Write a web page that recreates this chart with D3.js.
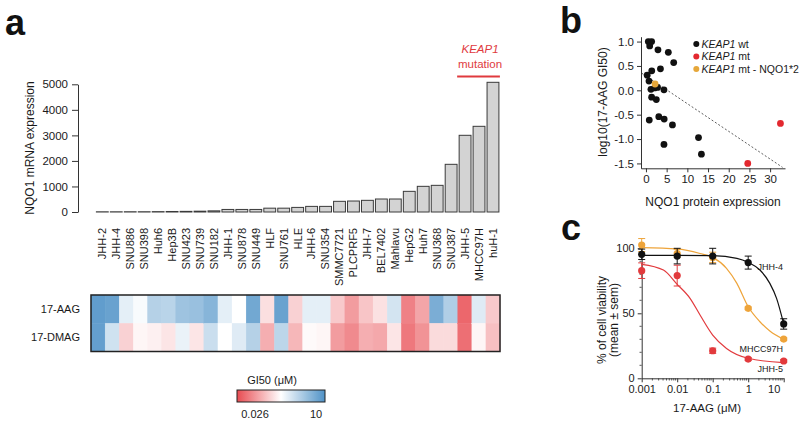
<!DOCTYPE html>
<html><head><meta charset="utf-8">
<script src="https://cdn.jsdelivr.net/npm/d3@7"></script>
<style>
body{margin:0;background:#fff;}
svg{font-family:"Liberation Sans",Arial,Helvetica,sans-serif;}
</style></head><body>
<svg id="chart" width="800" height="424"></svg>
<script>
// ---------- Panel a data ----------
const categories = ["JHH-2","JHH-4","SNU886","SNU398","Huh6","Hep3B","SNU423","SNU739","SNU182","JHH-1","SNU878","SNU449","HLF","SNU761","HLE","JHH-6","SNU354","SMMC7721","PLCPRF5","JHH-7","BEL7402","Mahlavu","HepG2","Huh7","SNU368","SNU387","JHH-5","MHCC97H","huH-1"];
const nqo1Expression = [8,8,10,10,14,20,25,32,45,100,100,100,150,150,180,220,220,418,430,457,509,509,809,1005,1044,1867,3003,3355,5078];
const yTicksA = [0,1000,2000,3000,4000,5000];
const drugs = ["17-AAG","17-DMAG"];
const gi50AAG  = [7.43,6.40,0.80,0.57,1.78,1.67,2.62,2.86,3.86,0.80,0.51,5.52,0.30,6.40,0.24,0.80,0.80,0.21,0.099,0.197,0.31,1.07,0.064,0.115,4.75,1.95,0.041,0.87,0.21];
const gi50DMAG = [7.0,1.14,0.24,0.44,0.40,0.33,0.73,0.33,1.25,0.51,0.87,1.78,0.134,1.58,0.155,0.47,0.44,0.099,0.074,0.134,0.122,0.33,0.055,0.085,0.28,0.28,0.047,0.44,0.18];
const gi50Range = [0.026, 10];
const mutatedLines = ["JHH-5","MHCC97H","huH-1"];

// ---------- Panel b data ----------
const wtX = [0.57,1.37,0.9,2.9,5.4,6.7,1.4,3.5,0.3,0.73,1.2,2.1,2.8,4.35,1.37,2.5,3.1,4.4,0.8,6.4,4.35,12.7,13.4];
const wtY = [1.0,1.0,0.91,0.83,0.78,0.57,0.40,0.44,0.31,0.19,0.02,0.05,0.06,0.01,-0.14,-0.19,-0.54,-0.59,-0.61,-0.71,-1.11,-0.97,-1.31];
const mtX = [24.6,32.5];
const mtY = [-1.5,-0.68];
const mt2X = [2.2];
const mt2Y = [0.13];
const fitLineX = [-1, 33];
const fitLineY = [0.35, -1.58];
const xTicksB = [0,5,10,15,20,25,30];
const yTicksB = [-1.5,-1.0,-0.5,0.0,0.5,1.0];

// ---------- Panel c data ----------
const doses = [0.001,0.01,0.1,1,10];
const jhh4Mean = [95.4,94,94,89,41.8];
const jhh4Sem  = [4,6,6,5,4];
const mhccMean = [102.5,96,93,53.8,30.2];
const mhccSem  = [5,3,4,1,1];
const jhh5Mean = [82.8,79,21.2,14.8,13.3];
const jhh5Sem  = [6,8,2,1,1];
const jhh4CurveX = [0.001,0.01,0.1,0.48,1,2.14,4.07,6.3,10];
const jhh4CurveY = [94.6,94.5,94.3,92.3,89.2,83.3,73,61.5,41.8];
const mhccCurveX = [0.001,0.01,0.044,0.1,0.245,0.48,1,2.14,4.07,10];
const mhccCurveY = [100.5,99.5,96,93,84.6,73,55,43.5,36.4,30];
const jhh5CurveX = [0.001,0.0041,0.01,0.023,0.044,0.1,0.245,1,10];
const jhh5CurveY = [87.7,83.3,72.3,61.5,48.7,33.3,23,15.4,12];
const xTickLabelsC = ["0.001","0.01","0.1","1","10"];
const yTicksC = [0,50,100];

const svg = d3.select("#chart");
const axisCol = "#333";
const txtCol = "#1a1a1a";
function styleAxis(g, fs){
  g.selectAll("path,line").attr("stroke", axisCol).attr("stroke-width",1);
  g.selectAll("text").attr("fill", txtCol).style("font-size", fs+"px").style("font-family","Liberation Sans, Arial, sans-serif");
}

// Panel labels
[["a",5,35],["b",560,33],["c",561,240]].forEach(([t,x,y])=>{
  svg.append("text").attr("x",x).attr("y",y).text(t)
    .style("font-size","36px").style("font-weight","bold").attr("fill","#111");
});

// ===== Panel a: bars =====
const xA = d3.scaleBand().domain(categories).range([94.3,501]).padding(0.15);
const yA = d3.scaleLinear().domain([0,5000]).range([212,84.3]);
const gA = svg.append("g");
gA.selectAll("rect.bar").data(categories).join("rect")
  .attr("class","bar")
  .attr("x", d=>xA(d)).attr("width", xA.bandwidth())
  .attr("y", (d,i)=>yA(nqo1Expression[i]))
  .attr("height", (d,i)=>yA(0)-yA(nqo1Expression[i]))
  .attr("fill","#d3d3d3").attr("stroke","#3a3a3a").attr("stroke-width",1);
const axA = gA.append("g").attr("transform","translate(78,0)")
  .call(d3.axisLeft(yA).tickValues(yTicksA).tickSize(6).tickPadding(4).tickSizeOuter(0).tickFormat(d=>String(d)));
styleAxis(axA, 11.5);
gA.append("text").attr("transform","translate(34,148) rotate(-90)")
  .attr("text-anchor","middle").style("font-size","12px").attr("fill",txtCol)
  .text("NQO1 mRNA expression");
// category labels
gA.selectAll("text.cat").data(categories).join("text").attr("class","cat")
  .attr("transform", d=>`translate(${xA(d)+xA.bandwidth()/2},228) rotate(-90)`)
  .attr("text-anchor","end").attr("dy","0.35em")
  .style("font-size","11px").attr("fill",txtCol).text(d=>d);
// KEAP1 mutation annotation
const mutStart = xA(mutatedLines[0]), mutEnd = xA(mutatedLines[mutatedLines.length-1])+xA.bandwidth();
const mutMid = (mutStart+mutEnd)/2 + 1;
const red = "#e03a3e";
gA.append("line").attr("x1",mutStart-2).attr("x2",mutEnd+1).attr("y1",76.5).attr("y2",76.5)
  .attr("stroke",red).attr("stroke-width",2);
gA.append("text").attr("x",mutMid).attr("y",53).attr("text-anchor","middle")
  .style("font-size","11.5px").style("font-style","italic").attr("fill",red).text("KEAP1");
gA.append("text").attr("x",mutMid).attr("y",67.5).attr("text-anchor","middle")
  .style("font-size","11.5px").attr("fill",red).text("mutation");

// ===== Heatmap =====
const heatRed = "#e84b51", heatBlue = "#4f92c7";
const gMid = Math.sqrt(gi50Range[0]*gi50Range[1]);
const color = d3.scaleLog().domain([gi50Range[0], gMid, gi50Range[1]])
  .range([heatRed,"#ffffff",heatBlue]).interpolate(d3.interpolateRgb).clamp(true);
const xH = d3.scaleBand().domain(categories).range([91,500]);
const yH = d3.scaleBand().domain(drugs).range([295,351.5]);
const heatData = [];
categories.forEach((c,i)=>{
  heatData.push({c, drug:drugs[0], v:gi50AAG[i]});
  heatData.push({c, drug:drugs[1], v:gi50DMAG[i]});
});
const gH = svg.append("g");
gH.selectAll("rect.cell").data(heatData).join("rect").attr("class","cell")
  .attr("x", d=>xH(d.c)).attr("y", d=>yH(d.drug))
  .attr("width", xH.bandwidth()+0.3).attr("height", yH.bandwidth()+0.3)
  .attr("fill", d=>color(d.v)).attr("stroke", d=>color(d.v)).attr("stroke-width",0.3);
gH.append("rect").attr("x",91).attr("y",295).attr("width",409).attr("height",56.5)
  .attr("fill","none").attr("stroke","#222").attr("stroke-width",1.5);
gH.selectAll("text.drug").data(drugs).join("text").attr("class","drug")
  .attr("x",80).attr("y", d=>yH(d)+yH.bandwidth()/2).attr("dy","0.35em")
  .attr("text-anchor","end").style("font-size","11px").attr("fill",txtCol).text(d=>d);

// Legend
const defs = svg.append("defs");
const grad = defs.append("linearGradient").attr("id","gi50grad");
d3.range(0,1.0001,0.05).forEach(t=>{
  const v = Math.pow(10, Math.log10(gi50Range[0]) + t*(Math.log10(gi50Range[1])-Math.log10(gi50Range[0])));
  grad.append("stop").attr("offset", (t*100)+"%").attr("stop-color", color(v));
});
svg.append("rect").attr("x",237).attr("y",390).attr("width",88).attr("height",12)
  .attr("fill","url(#gi50grad)").attr("stroke","#222").attr("stroke-width",1);
svg.append("text").attr("x",272).attr("y",384).attr("text-anchor","middle")
  .style("font-size","11px").attr("fill",txtCol).text("GI50 (μM)");
svg.selectAll("text.leg").data(gi50Range).join("text").attr("class","leg")
  .attr("x", (d,i)=> i===0 ? 255 : 316).attr("y",418).attr("text-anchor","middle")
  .style("font-size","11px").attr("fill",txtCol).text(d=>String(d));

// ===== Panel b: scatter =====
const xB = d3.scaleLinear().domain([-1.2,33.6]).range([641,785]);
const yB = d3.scaleLinear().domain([-1.6,1.1]).range([168.3,36.7]);
const gB = svg.append("g");
const axBx = gB.append("g").attr("transform","translate(0,168.3)")
  .call(d3.axisBottom(xB).tickValues(xTicksB).tickSize(4).tickPadding(3).tickSizeOuter(0));
styleAxis(axBx, 11.5);
const axBy = gB.append("g").attr("transform","translate(641,0)")
  .call(d3.axisLeft(yB).tickValues(yTicksB).tickSize(4).tickPadding(3).tickSizeOuter(0).tickFormat(d=>d.toFixed(1)));
styleAxis(axBy, 11.5);
gB.append("text").attr("transform","translate(607,102) rotate(-90)").attr("text-anchor","middle")
  .style("font-size","12px").attr("fill",txtCol).text("log10(17-AAG GI50)");
gB.append("text").attr("x",713).attr("y",206).attr("text-anchor","middle")
  .style("font-size","12px").attr("fill",txtCol).text("NQO1 protein expression");
gB.append("path").datum(fitLineX.map((x,i)=>[x,fitLineY[i]]))
  .attr("d", d3.line().x(d=>xB(d[0])).y(d=>yB(d[1])))
  .attr("fill","none").attr("stroke","#333").attr("stroke-width",0.8).attr("stroke-dasharray","2,2");
const colWt = "#111", colMt = "#e3282f", colMt2 = "#e6a73a";
function dots(xs, ys, col){
  gB.append("g").selectAll("circle").data(xs).join("circle")
    .attr("cx", d=>xB(d)).attr("cy", (d,i)=>yB(ys[i])).attr("r",3.4).attr("fill",col);
}
dots(wtX, wtY, colWt);
dots(mtX, mtY, colMt);
dots(mt2X, mt2Y, colMt2);
const legB = [[colWt," wt"],[colMt," mt"],[colMt2," mt - NQO1*2"]];
legB.forEach(([c,t],i)=>{
  const y = 44 + i*12.5;
  gB.append("circle").attr("cx",696.3).attr("cy",y).attr("r",3).attr("fill",c);
  const tx = gB.append("text").attr("x",701.5).attr("y",y).attr("dy","0.35em")
    .style("font-size","10.5px").attr("fill",txtCol);
  tx.append("tspan").style("font-style","italic").text("KEAP1");
  tx.append("tspan").text(t);
});

// ===== Panel c: dose response =====
const xC = d3.scaleLog().domain([0.001,10]).range([641.7,783.7]);
const yC = d3.scaleLinear().domain([0,103]).range([378.3,244.4]);
const gC = svg.append("g");
const axCx = gC.append("g").attr("transform","translate(0,378.3)")
  .call(d3.axisBottom(xC).tickValues(doses).tickSize(4).tickPadding(3).tickSizeOuter(0)
    .tickFormat((d,i)=>xTickLabelsC[i]));
styleAxis(axCx, 11);
axCx.selectAll(".tick text").filter(d=>d===10).attr("dx","-10");
// minor log ticks
const minorX = [];
doses.slice(0,4).forEach(b=>{ for(let k=2;k<=9;k++) minorX.push(b*k); });
gC.append("g").selectAll("line").data(minorX).join("line")
  .attr("x1",d=>xC(d)).attr("x2",d=>xC(d)).attr("y1",378.3).attr("y2",380.5)
  .attr("stroke",axisCol).attr("stroke-width",0.8);
const axCy = gC.append("g").attr("transform","translate(641.7,0)")
  .call(d3.axisLeft(yC).tickValues(yTicksC).tickSize(4).tickPadding(3).tickSizeOuter(0));
styleAxis(axCy, 11);
const minorY = d3.range(10,101,10).filter(v=>v!==50 && v!==100);
gC.append("g").selectAll("line").data(minorY).join("line")
  .attr("x1",639.5).attr("x2",641.7).attr("y1",d=>yC(d)).attr("y2",d=>yC(d))
  .attr("stroke",axisCol).attr("stroke-width",0.8);
gC.append("text").attr("transform","translate(606,320) rotate(-90)").attr("text-anchor","middle")
  .style("font-size","12px").attr("fill",txtCol).text("% of cell viability");
gC.append("text").attr("transform","translate(618,320) rotate(-90)").attr("text-anchor","middle")
  .style("font-size","12px").attr("fill",txtCol).text("(mean ± sem)");
gC.append("text").attr("x",707).attr("y",412).attr("text-anchor","middle")
  .style("font-size","11.5px").attr("fill",txtCol).text("17-AAG (μM)");

const cBlack = "#111", cOrange = "#eea43a", cRed = "#e23a3d";
const curveLine = d3.line().x(d=>xC(d[0])).y(d=>yC(d[1])).curve(d3.curveMonotoneX);
function series(cx, cy, mean, sem, col){
  gC.append("path").datum(cx.map((x,i)=>[x,cy[i]])).attr("d",curveLine)
    .attr("fill","none").attr("stroke",col).attr("stroke-width",1.2);
  const g = gC.append("g");
  doses.forEach((d,i)=>{
    const x = xC(d), y1 = yC(mean[i]-sem[i]), y2 = yC(mean[i]+sem[i]);
    g.append("line").attr("x1",x).attr("x2",x).attr("y1",y1).attr("y2",y2).attr("stroke",col).attr("stroke-width",1);
    g.append("line").attr("x1",x-3.5).attr("x2",x+3.5).attr("y1",y1).attr("y2",y1).attr("stroke",col).attr("stroke-width",1);
    g.append("line").attr("x1",x-3.5).attr("x2",x+3.5).attr("y1",y2).attr("y2",y2).attr("stroke",col).attr("stroke-width",1);
  });
  g.selectAll("circle").data(doses).join("circle")
    .attr("cx",d=>xC(d)).attr("cy",(d,i)=>yC(mean[i])).attr("r",3.6).attr("fill",col);
}
series(mhccCurveX, mhccCurveY, mhccMean, mhccSem, cOrange);
series(jhh5CurveX, jhh5CurveY, jhh5Mean, jhh5Sem, cRed);
series(jhh4CurveX, jhh4CurveY, jhh4Mean, jhh4Sem, cBlack);
[["JHH-4",267],["MHCC97H",349],["JHH-5",369]].forEach(([t,y])=>{
  gC.append("text").attr("x",783).attr("y",y).attr("dy","0.35em").attr("text-anchor","end")
    .style("font-size","9px").attr("fill",txtCol).text(t);
});
</script>
</body></html>
